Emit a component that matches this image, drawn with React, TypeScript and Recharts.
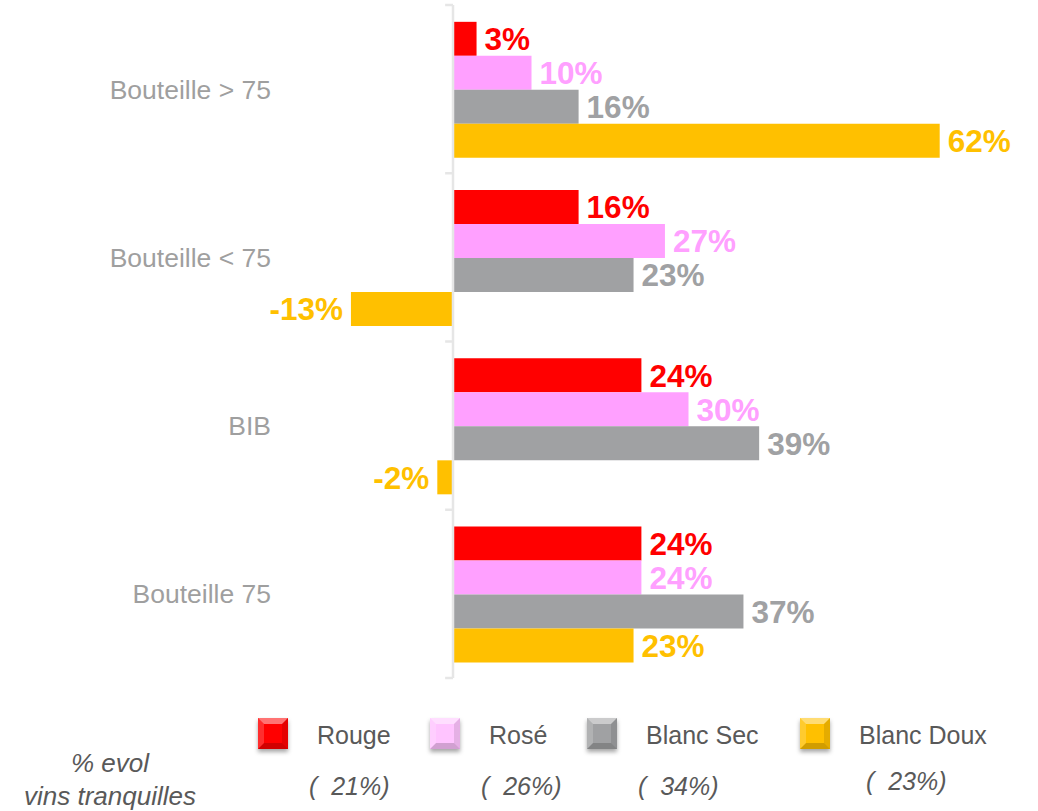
import React from "react";
import { BarChart, Bar, XAxis, YAxis, LabelList, ReferenceLine } from "recharts";

const categories = ["Bouteille > 75", "Bouteille < 75", "BIB", "Bouteille 75"];
const rouge = [3, 16, 24, 24];
const rose = [10, 27, 30, 24];
const blancSec = [16, 23, 39, 37];
const blancDoux = [62, -13, -2, 23];

const seriesKeys = ["rouge", "rose", "blancSec", "blancDoux"];
const seriesNames = ["Rouge", "Rosé", "Blanc Sec", "Blanc Doux"];
const seriesTotals = [21, 26, 34, 23];
const footnote = ["% evol", "vins tranquilles"];

const COLORS = ["#FF0000", "#FFA0FF", "#A0A1A3", "#FFC000"];
const ICON_COLORS = ["#FF0000", "#FFC4FF", "#A0A1A3", "#FFC000"];
const LEGEND_X = [257, 429, 586, 799];
const TOTAL_DY = [0, 0, 0, -5];

const data = categories.map((cat, i) => ({
  cat,
  rouge: rouge[i],
  rose: rose[i],
  blancSec: blancSec[i],
  blancDoux: blancDoux[i],
}));

const FONT = '"Liberation Sans", Arial, Helvetica, sans-serif';

function GlossyIcon({ color }: { color: string }) {
  return (
    <svg width={32} height={33} style={{ display: "block", filter: "drop-shadow(0 3px 2px rgba(0,0,0,0.35))" }}>
      <rect x={1} y={1} width={30} height={31} fill={color} />
      <polygon points="1,1 31,1 25,7 7,7" fill="#fff" opacity={0.45} />
      <polygon points="1,32 31,32 25,26 7,26" fill="#000" opacity={0.18} />
      <polygon points="1,1 7,7 7,26 1,32" fill="#fff" opacity={0.18} />
      <polygon points="31,1 25,7 25,26 31,32" fill="#000" opacity={0.1} />
    </svg>
  );
}

export default function App() {
  const last = categories[categories.length - 1];
  return (
    <div style={{ position: "absolute", left: 0, top: 0, width: 1038, height: 811, background: "#fff", fontFamily: FONT }}>
      <BarChart
        width={1038}
        height={811}
        data={data}
        layout="vertical"
        margin={{ top: 5, right: 35.5, bottom: 133, left: 0 }}
        barCategoryGap="10%"
        barGap={0}
      >
        <XAxis type="number" domain={[-20, 70]} hide />
        <YAxis
          type="category"
          dataKey="cat"
          width={296}
          axisLine={false}
          tickLine={false}
          tickSize={0}
          tickMargin={25}
          tick={{ fill: "#9f9f9f", fontSize: 26.5 }}
        />
        <ReferenceLine x={0} stroke="#e6e6e6" strokeWidth={2.5} />
        {categories.map((c) => (
          <ReferenceLine
            key={c}
            position="start"
            segment={[
              { x: -1, y: c },
              { x: 0, y: c },
            ]}
            stroke="#e6e6e6"
            strokeWidth={2.5}
          />
        ))}
        <ReferenceLine
          position="end"
          segment={[
            { x: -1, y: last },
            { x: 0, y: last },
          ]}
          stroke="#e6e6e6"
          strokeWidth={2.5}
        />
        {seriesKeys.map((k, i) => (
          <Bar key={k} dataKey={k} name={seriesNames[i]} fill={COLORS[i]} isAnimationActive={false}>
            <LabelList
              dataKey={k}
              position="right"
              offset={8}
              formatter={(v: number) => `${v}%`}
              fill={COLORS[i]}
              fontSize={31.5}
              fontWeight="bold"
            />
          </Bar>
        ))}
      </BarChart>

      {seriesNames.map((name, i) => (
        <React.Fragment key={name}>
          <div style={{ position: "absolute", left: LEGEND_X[i], top: 717 }}>
            <GlossyIcon color={ICON_COLORS[i]} />
          </div>
          <div
            style={{
              position: "absolute",
              left: LEGEND_X[i] + 60,
              top: 735,
              transform: "translateY(-50%)",
              fontSize: 25,
              color: "#595959",
              whiteSpace: "pre",
            }}
          >
            {name}
          </div>
          <div
            style={{
              position: "absolute",
              left: LEGEND_X[i] + 52 + (i === 3 ? 15 : 0),
              top: 786 + TOTAL_DY[i],
              transform: "translateY(-50%)",
              fontSize: 25,
              fontStyle: "italic",
              color: "#595959",
              whiteSpace: "pre",
            }}
          >
            {`(  ${seriesTotals[i]}%)`}
          </div>
        </React.Fragment>
      ))}

      <div
        style={{
          position: "absolute",
          left: 0,
          top: 747,
          width: 220,
          textAlign: "center",
          fontSize: 26,
          lineHeight: "33px",
          fontStyle: "italic",
          color: "#595959",
        }}
      >
        {footnote.map((f) => (
          <div key={f}>{f}</div>
        ))}
      </div>
    </div>
  );
}
